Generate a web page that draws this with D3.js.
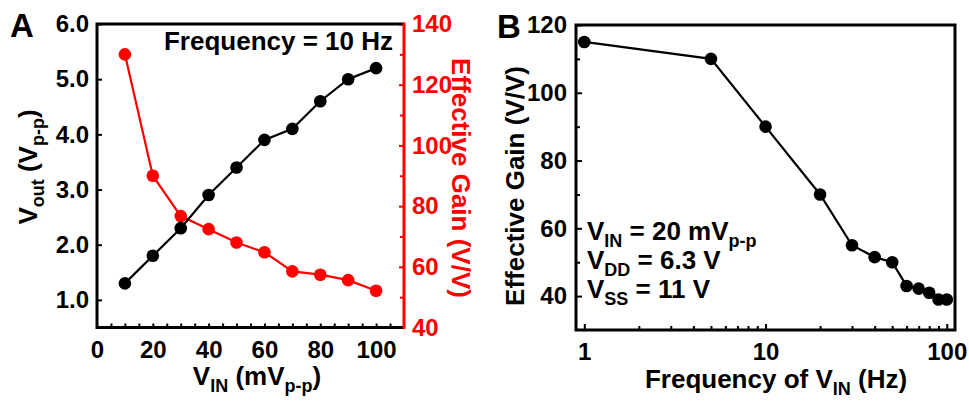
<!DOCTYPE html>
<html>
<head>
<meta charset="utf-8">
<script src="https://cdn.jsdelivr.net/npm/d3@7"></script>
<style>
  body { margin: 0; background: #fff; }
  svg { display: block; }
  text { font-family: "Liberation Sans", Arial, sans-serif; font-weight: bold; }
</style>
</head>
<body>
<svg width="969" height="405"></svg>
<script>
  // panel A data
  var vin = [10, 20, 30, 40, 50, 60, 70, 80, 90, 100];
  var vout = [1.3, 1.8, 2.3, 2.9, 3.4, 3.9, 4.1, 4.6, 5.0, 5.2];
  var gainA = [130, 90, 76.7, 72.4, 68, 64.8, 58.5, 57.4, 55.6, 52.1];
  var voutTicks = [1.0, 2.0, 3.0, 4.0, 5.0, 6.0];
  var gainTicksA = [40, 60, 80, 100, 120, 140];
  var vinTicks = [0, 20, 40, 60, 80, 100];

  // panel B data
  var freq = [1, 5, 10, 20, 30, 40, 50, 60, 70, 80, 90, 100];
  var gainB = [115, 110, 90, 70, 55, 51.5, 50, 43, 42.2, 41, 39, 39];
  var gainTicksB = [40, 60, 80, 100, 120];
  var freqTicks = [1, 10, 100];

  var RED = "#ff0000";
  var svg = d3.select("svg");

  function cleanAxis(g, color) {
    g.select(".domain").remove();
    g.selectAll("line").attr("stroke", color).attr("stroke-width", 2);
    g.selectAll("text")
      .attr("fill", color)
      .style("font-size", "24px")
      .style("font-family", '"Liberation Sans", Arial, sans-serif')
      .style("font-weight", "bold");
  }

  // ---------- panel A ----------
  var ax = { l: 97, r: 404, t: 24, b: 327.5 };

  var xA = d3.scaleLinear().domain([0, 110]).range([ax.l, ax.r]);
  var yL = d3.scaleLinear().domain([0.5, 6.0]).range([ax.b, ax.t]);
  var yR = d3.scaleLinear().domain([40, 140]).range([ax.b, ax.t]);

  var gA = svg.append("g");

  gA.append("g")
    .attr("transform", "translate(0," + ax.b + ")")
    .call(d3.axisBottom(xA).tickValues(d3.range(5, 110, 5)).tickSize(-4).tickFormat(""))
    .call(function (g) { cleanAxis(g, "#000"); });
  gA.append("g")
    .attr("transform", "translate(0," + ax.b + ")")
    .call(d3.axisBottom(xA).tickValues(vinTicks).tickSize(0).tickPadding(13).tickFormat(d3.format("d")))
    .call(function (g) { cleanAxis(g, "#000"); });

  gA.append("g")
    .attr("transform", "translate(" + ax.l + ",0)")
    .call(d3.axisLeft(yL).tickValues(voutTicks).tickSize(-5).tickPadding(8).tickFormat(d3.format(".1f")))
    .call(function (g) { cleanAxis(g, "#000"); });

  gA.append("g")
    .attr("transform", "translate(" + ax.r + ",0)")
    .call(d3.axisRight(yR).tickValues(d3.range(50, 140, 20)).tickSize(-4).tickFormat(""))
    .call(function (g) { cleanAxis(g, RED); });
  gA.append("g")
    .attr("transform", "translate(" + ax.r + ",0)")
    .call(d3.axisRight(yR).tickValues(gainTicksA).tickSize(-5).tickPadding(8))
    .call(function (g) { cleanAxis(g, RED); });

  // frame
  gA.append("path")
    .attr("d", "M" + ax.r + "," + ax.t + "H" + ax.l + "V" + ax.b + "H" + ax.r)
    .attr("fill", "none").attr("stroke", "#000").attr("stroke-width", 3);
  gA.append("line")
    .attr("x1", ax.r).attr("x2", ax.r).attr("y1", ax.t - 1.5).attr("y2", ax.b + 1.5)
    .attr("stroke", RED).attr("stroke-width", 3);

  var lineVout = d3.line().x(function (d, i) { return xA(vin[i]); }).y(function (d) { return yL(d); });
  var lineGainA = d3.line().x(function (d, i) { return xA(vin[i]); }).y(function (d) { return yR(d); });

  gA.append("path").datum(gainA).attr("d", lineGainA)
    .attr("fill", "none").attr("stroke", RED).attr("stroke-width", 2.2);
  gA.append("path").datum(vout).attr("d", lineVout)
    .attr("fill", "none").attr("stroke", "#000").attr("stroke-width", 2.2);

  gA.selectAll(".dotR").data(gainA).enter().append("circle")
    .attr("cx", function (d, i) { return xA(vin[i]); })
    .attr("cy", function (d) { return yR(d); })
    .attr("r", 6.3).attr("fill", RED);
  gA.selectAll(".dotK").data(vout).enter().append("circle")
    .attr("cx", function (d, i) { return xA(vin[i]); })
    .attr("cy", function (d) { return yL(d); })
    .attr("r", 6.3).attr("fill", "#000");

  gA.append("text").attr("x", 393).attr("y", 50).attr("text-anchor", "end")
    .style("font-size", "26px").text("Frequency = 10 Hz");

  // axis titles A
  var tx = gA.append("text").attr("x", 257).attr("y", 385).attr("text-anchor", "middle")
    .style("font-size", "26px");
  tx.append("tspan").text("V");
  tx.append("tspan").attr("dy", 7).style("font-size", "18px").text("IN");
  tx.append("tspan").attr("dy", -7).text(" (mV");
  tx.append("tspan").attr("dy", 7).style("font-size", "18px").text("p-p");
  tx.append("tspan").attr("dy", -7).text(")");

  var tyL = gA.append("text").attr("transform", "translate(37,167) rotate(-90)")
    .attr("text-anchor", "middle").style("font-size", "26px");
  tyL.append("tspan").text("V");
  tyL.append("tspan").attr("dy", 7).style("font-size", "18px").text("out");
  tyL.append("tspan").attr("dy", -7).text(" (V");
  tyL.append("tspan").attr("dy", 7).style("font-size", "18px").text("p-p");
  tyL.append("tspan").attr("dy", -7).text(")");

  gA.append("text").attr("transform", "translate(452,178) rotate(90)")
    .attr("text-anchor", "middle").attr("fill", RED).style("font-size", "26px")
    .text("Effective Gain (V/V)");

  gA.append("text").attr("x", 10).attr("y", 37).style("font-size", "33px").text("A");

  // ---------- panel B ----------
  var bx = { l: 576, r: 955, t: 25, b: 330 };

  var xB = d3.scaleLog().domain([0.9, 111]).range([bx.l, bx.r]);
  var yB = d3.scaleLinear().domain([30, 120]).range([bx.b, bx.t]);

  var gB = svg.append("g");

  var minorLog = [];
  [1, 10].forEach(function (dec) {
    d3.range(2, 10).forEach(function (m) { minorLog.push(m * dec); });
  });

  gB.append("g")
    .attr("transform", "translate(0," + bx.b + ")")
    .call(d3.axisBottom(xB).tickValues(minorLog).tickSize(-4).tickFormat(""))
    .call(function (g) { cleanAxis(g, "#000"); });
  gB.append("g")
    .attr("transform", "translate(0," + bx.b + ")")
    .call(d3.axisBottom(xB).tickValues(freqTicks).tickSize(-6).tickPadding(13).tickFormat(d3.format("d")))
    .call(function (g) { cleanAxis(g, "#000"); g.selectAll("text").attr("y", 13); });

  gB.append("g")
    .attr("transform", "translate(" + bx.l + ",0)")
    .call(d3.axisLeft(yB).tickValues(d3.range(50, 120, 20)).tickSize(-4).tickFormat(""))
    .call(function (g) { cleanAxis(g, "#000"); });
  gB.append("g")
    .attr("transform", "translate(" + bx.l + ",0)")
    .call(d3.axisLeft(yB).tickValues(gainTicksB).tickSize(-6).tickPadding(9))
    .call(function (g) { cleanAxis(g, "#000"); });

  gB.append("rect")
    .attr("x", bx.l).attr("y", bx.t).attr("width", bx.r - bx.l).attr("height", bx.b - bx.t)
    .attr("fill", "none").attr("stroke", "#000").attr("stroke-width", 3);

  var lineB = d3.line().x(function (d, i) { return xB(freq[i]); }).y(function (d) { return yB(d); });
  gB.append("path").datum(gainB).attr("d", lineB)
    .attr("fill", "none").attr("stroke", "#000").attr("stroke-width", 2.2);
  gB.selectAll(".dotB").data(gainB).enter().append("circle")
    .attr("cx", function (d, i) { return xB(freq[i]); })
    .attr("cy", function (d) { return yB(d); })
    .attr("r", 6.3).attr("fill", "#000");

  // annotation
  function subLine(y, parts) {
    var t = gB.append("text").attr("x", 587).attr("y", y).style("font-size", "26px");
    parts.forEach(function (p) {
      if (p[1]) {
        t.append("tspan").attr("dy", 7).style("font-size", "18px").text(p[0]);
      } else {
        t.append("tspan").attr("dy", p[2] || 0).text(p[0]);
      }
    });
  }
  subLine(240, [["V"], ["IN", 1], [" = 20 mV", 0, -7], ["p-p", 1]]);
  subLine(269, [["V"], ["DD", 1], [" = 6.3 V", 0, -7]]);
  subLine(298, [["V"], ["SS", 1], [" = 11 V", 0, -7]]);

  var txB = gB.append("text").attr("x", 776).attr("y", 388).attr("text-anchor", "middle")
    .style("font-size", "26px");
  txB.append("tspan").text("Frequency of V");
  txB.append("tspan").attr("dy", 7).style("font-size", "18px").text("IN");
  txB.append("tspan").attr("dy", -7).text(" (Hz)");

  gB.append("text").attr("transform", "translate(524,186) rotate(-90)")
    .attr("text-anchor", "middle").style("font-size", "26px")
    .text("Effective Gain (V/V)");

  gB.append("text").attr("x", 497).attr("y", 38).style("font-size", "33px").text("B");
</script>
</body>
</html>
